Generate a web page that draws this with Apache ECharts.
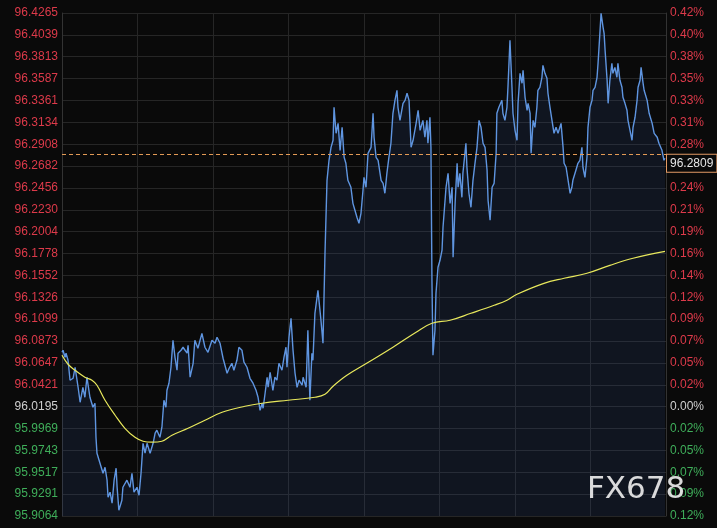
<!DOCTYPE html>
<html>
<head>
<meta charset="utf-8">
<script src="https://cdn.jsdelivr.net/npm/echarts@6/dist/echarts.min.js"></script>
<style>
html,body{margin:0;padding:0;background:#0a0a0a;}
#chart{width:717px;height:528px;}
</style>
</head>
<body>
<div id="chart"></div>
<script>
// ---- data ----
const leftLabels = ['96.4265','96.4039','96.3813','96.3587','96.3361','96.3134','96.2908','96.2682','96.2456','96.2230','96.2004','96.1778','96.1552','96.1326','96.1099','96.0873','96.0647','96.0421','96.0195','95.9969','95.9743','95.9517','95.9291','95.9064'];
const rightLabels = ['0.42%','0.40%','0.38%','0.35%','0.33%','0.31%','0.28%','0.26%','0.24%','0.21%','0.19%','0.16%','0.14%','0.12%','0.09%','0.07%','0.05%','0.02%','0.00%','0.02%','0.05%','0.07%','0.09%','0.12%'];
const yMin = 95.9064;
const yMax = 96.4265;
const baseIndex = 18; // 96.0195 = 0.00%
const lastPrice = 96.2809;
const watermark = 'FX678';

// hours since session start
const times = [
0, 0.04, 0.12, 0.16, 0.24, 0.32, 0.44, 0.52, 0.64, 0.72,
0.83, 0.91, 0.99, 1.11, 1.23, 1.31, 1.35, 1.39, 1.51, 1.63,
1.71, 1.79, 1.83, 1.91, 1.99, 2.07, 2.15, 2.19, 2.26, 2.38,
2.42, 2.58, 2.70, 2.78, 2.86, 2.98, 3.06, 3.14, 3.22, 3.30,
3.38, 3.50, 3.62, 3.70, 3.77, 3.89, 3.97, 4.05, 4.13, 4.17,
4.25, 4.33, 4.41, 4.49, 4.57, 4.61, 4.73, 4.81, 4.89, 4.97,
5.01, 5.09, 5.21, 5.28, 5.40, 5.56, 5.68, 5.80, 5.96, 6.08,
6.16, 6.28, 6.40, 6.56, 6.64, 6.75, 6.83, 6.95, 7.03, 7.15,
7.23, 7.35, 7.47, 7.59, 7.71, 7.79, 7.87, 7.95, 7.99, 8.07,
8.15, 8.19, 8.27, 8.38, 8.46, 8.54, 8.62, 8.74, 8.82, 8.90,
8.94, 9.02, 9.10, 9.18, 9.26, 9.34, 9.42, 9.54, 9.58, 9.70,
9.77, 9.85, 9.93, 9.97, 10.05, 10.17, 10.29, 10.37, 10.45, 10.53,
10.61, 10.69, 10.77, 10.81, 10.89, 10.97, 11.05, 11.13, 11.21, 11.28,
11.36, 11.48, 11.56, 11.64, 11.72, 11.80, 11.88, 11.96, 12.00, 12.08,
12.16, 12.28, 12.36, 12.40, 12.48, 12.56, 12.68, 12.76, 12.83, 12.91,
12.99, 13.07, 13.15, 13.23, 13.31, 13.35, 13.43, 13.55, 13.63, 13.71,
13.79, 13.87, 13.95, 14.07, 14.15, 14.23, 14.34, 14.42, 14.50, 14.54,
14.62, 14.66, 14.70, 14.74, 14.82, 14.86, 14.94, 15.02, 15.10, 15.14,
15.26, 15.34, 15.42, 15.50, 15.54, 15.62, 15.70, 15.74, 15.81, 15.89,
15.93, 16.05, 16.09, 16.17, 16.25, 16.33, 16.41, 16.49, 16.57, 16.65,
16.73, 16.81, 16.89, 16.93, 17.01, 17.09, 17.17, 17.25, 17.28, 17.36,
17.48, 17.52, 17.60, 17.68, 17.72, 17.80, 17.88, 17.92, 18.00, 18.08,
18.12, 18.20, 18.28, 18.32, 18.40, 18.48, 18.52, 18.60, 18.64, 18.72,
18.79, 18.87, 18.91, 18.99, 19.07, 19.11, 19.19, 19.27, 19.31, 19.39,
19.47, 19.55, 19.63, 19.71, 19.83, 19.91, 19.95, 20.03, 20.11, 20.19,
20.26, 20.30, 20.42, 20.50, 20.58, 20.66, 20.70, 20.78, 20.86, 20.90,
20.98, 21.06, 21.10, 21.18, 21.26, 21.30, 21.38, 21.42, 21.50, 21.54,
21.58, 21.66, 21.70, 21.77, 21.85, 21.89, 21.97, 22.05, 22.09, 22.17,
22.25, 22.29, 22.37, 22.45, 22.49, 22.57, 22.65, 22.69, 22.77, 22.85,
22.89, 22.97, 23.01, 23.09, 23.13, 23.25, 23.33, 23.45, 23.53, 23.65,
23.72, 23.84, 23.92, 23.96
];
const prices = [
96.0757, 96.0778, 96.0705, 96.0747, 96.0674, 96.0468, 96.0488, 96.0602, 96.0395, 96.0240,
96.0395, 96.0292, 96.0499, 96.0292, 96.0188, 96.0230, 95.9878, 95.9713, 95.9610, 95.9506,
95.9568, 95.9434, 95.9258, 95.9310, 95.9196, 95.9434, 95.9558, 95.9361, 95.9124, 95.9227,
95.9361, 95.9434, 95.9361, 95.9506, 95.9310, 95.9361, 95.9279, 95.9506, 95.9816, 95.9713,
95.9816, 95.9713, 95.9816, 95.9920, 95.9951, 95.9878, 95.9982, 96.0261, 96.0188, 96.0364,
96.0437, 96.0602, 96.0881, 96.0705, 96.0571, 96.0747, 96.0778, 96.0809, 96.0778, 96.0747,
96.0829, 96.0499, 96.0643, 96.0881, 96.0798, 96.0953, 96.0809, 96.0757, 96.0881, 96.0850,
96.0912, 96.0850, 96.0695, 96.0540, 96.0592, 96.0643, 96.0571, 96.0674, 96.0809, 96.0778,
96.0654, 96.0602, 96.0488, 96.0437, 96.0364, 96.0292, 96.0157, 96.0230, 96.0178, 96.0333,
96.0499, 96.0395, 96.0550, 96.0364, 96.0499, 96.0468, 96.0643, 96.0571, 96.0705, 96.0809,
96.0602, 96.0912, 96.1109, 96.0778, 96.0540, 96.0395, 96.0468, 96.0416, 96.0499, 96.0395,
96.0985, 96.0261, 96.0747, 96.0674, 96.1160, 96.1398, 96.1088, 96.0850, 96.1781, 96.2535,
96.2742, 96.2876, 96.2949, 96.3290, 96.3021, 96.3124, 96.2845, 96.3083, 96.2773, 96.2711,
96.2535, 96.2463, 96.2297, 96.2225, 96.2153, 96.2091, 96.2194, 96.2432, 96.2566, 96.2463,
96.2814, 96.2876, 96.3228, 96.2980, 96.2773, 96.2742, 96.2535, 96.2504, 96.2401, 96.2608,
96.2773, 96.2918, 96.3228, 96.3362, 96.3466, 96.3290, 96.3155, 96.3331, 96.3362, 96.3435,
96.3362, 96.2876, 96.2949, 96.3124, 96.3259, 96.3052, 96.3155, 96.2980, 96.3155, 96.2918,
96.3187, 96.2876, 96.1501, 96.0726, 96.0985, 96.1367, 96.1636, 96.1708, 96.1812, 96.2049,
96.2463, 96.2608, 96.2297, 96.2463, 96.1739, 96.2297, 96.2711, 96.2463, 96.2608, 96.2359,
96.2608, 96.2918, 96.2670, 96.2401, 96.2256, 96.2535, 96.2711, 96.2876, 96.3155, 96.3083,
96.2918, 96.2876, 96.2639, 96.2328, 96.2122, 96.2463, 96.2504, 96.2814, 96.3228, 96.3290,
96.3362, 96.3228, 96.3155, 96.3290, 96.3497, 96.3983, 96.3497, 96.3228, 96.3052, 96.2949,
96.3331, 96.3641, 96.3538, 96.3672, 96.3393, 96.3259, 96.3331, 96.3228, 96.2814, 96.3155,
96.3083, 96.3290, 96.3466, 96.3497, 96.3600, 96.3724, 96.3641, 96.3590, 96.3435, 96.3290,
96.3155, 96.3021, 96.3083, 96.3021, 96.3124, 96.2876, 96.2711, 96.2670, 96.2535, 96.2401,
96.2463, 96.2535, 96.2639, 96.2711, 96.2742, 96.2876, 96.2670, 96.2566, 96.2773, 96.3083,
96.3290, 96.3362, 96.3466, 96.3497, 96.3600, 96.3745, 96.4086, 96.4262, 96.4117, 96.4055,
96.3879, 96.3569, 96.3331, 96.3569, 96.3745, 96.3641, 96.3703, 96.3600, 96.3745, 96.3569,
96.3497, 96.3393, 96.3331, 96.3259, 96.3155, 96.3052, 96.2949, 96.3083, 96.3187, 96.3362,
96.3497, 96.3569, 96.3703, 96.3538, 96.3466, 96.3362, 96.3228, 96.3124, 96.3021, 96.2980,
96.2918, 96.2845, 96.2742, 96.2763
];
const maTimes = [0, 0.24, 0.52, 0.91, 1.19, 1.39, 1.71, 2.11, 2.50, 2.90, 3.22, 3.58, 3.97, 4.37, 5.01, 5.68, 6.36, 7.27, 7.95, 8.98, 10.05, 10.45, 10.77, 11.32, 12.24, 13.15, 14.07, 14.70, 15.42, 16.25, 17.17, 17.68, 18.08, 19.15, 19.95, 20.86, 21.77, 22.69, 23.96];
const maValues = [96.0726, 96.0633, 96.0571, 96.0499, 96.0468, 96.0416, 96.0261, 96.0106, 95.9971, 95.9878, 95.9837, 95.9827, 95.9837, 95.9899, 95.9971, 96.0054, 96.0137, 96.0199, 96.0230, 96.0261, 96.0292, 96.0323, 96.0406, 96.0519, 96.0664, 96.0809, 96.0964, 96.1057, 96.1088, 96.1160, 96.1243, 96.1295, 96.1357, 96.1470, 96.1522, 96.1574, 96.1656, 96.1729, 96.1801];

// ---- build ----
const yStep = (yMax - yMin) / (leftLabels.length - 1);
const priceData = times.map((t, i) => [t, prices[i]]);
const maData = maTimes.map((t, i) => [t, maValues[i]]);
const FONT = 'Liberation Sans, Arial, sans-serif';
const RED = '#dd3a4a', GREEN = '#3fae5a', NEUTRAL = '#cfcfcf';
function tickIndex(v) { return (leftLabels.length - 1) - Math.round((v - yMin) / yStep); }
function styleKey(k) { return k < baseIndex ? 'r' : (k === baseIndex ? 'n' : 'g'); }
const richStyles = {
  r: { color: RED, fontSize: 12, fontFamily: FONT },
  n: { color: NEUTRAL, fontSize: 12, fontFamily: FONT },
  g: { color: GREEN, fontSize: 12, fontFamily: FONT }
};
const yCommon = {
  type: 'value', min: yMin, max: yMax, interval: yStep, scale: true,
  axisTick: { show: false },
  axisLine: { show: true, lineStyle: { color: '#333333', width: 1 } }
};

const chart = echarts.init(document.getElementById('chart'), null, { renderer: 'canvas' });
chart.setOption({
  animation: false,
  backgroundColor: '#0a0a0a',
  grid: { left: 62, right: 51, top: 13, bottom: 12, containLabel: false },
  xAxis: {
    type: 'value', min: 0, max: 24, interval: 3,
    axisLine: { show: false }, axisTick: { show: false }, axisLabel: { show: false },
    splitLine: { show: true, lineStyle: { color: '#262626', width: 1 } }
  },
  yAxis: [
    Object.assign({}, yCommon, {
      position: 'left',
      splitLine: { show: true, lineStyle: { color: '#262626', width: 1 } },
      axisLabel: {
        margin: 4, showMinLabel: true, showMaxLabel: true, hideOverlap: false,
        formatter: function (v) { const k = tickIndex(v); return '{' + styleKey(k) + '|' + leftLabels[k] + '}'; },
        rich: richStyles
      }
    }),
    Object.assign({}, yCommon, {
      position: 'right',
      splitLine: { show: false },
      axisLabel: {
        margin: 4, showMinLabel: true, showMaxLabel: true, hideOverlap: false,
        formatter: function (v) { const k = tickIndex(v); return '{' + styleKey(k) + '|' + rightLabels[k] + '}'; },
        rich: richStyles
      }
    })
  ],
  graphic: [{
    type: 'text', left: 587, top: 474, z: 100,
    style: { text: watermark, fill: 'rgba(235,235,235,0.92)', font: '31px "DejaVu Sans", sans-serif' }
  }],
  series: [
    {
      type: 'line', name: 'price', data: priceData, yAxisIndex: 0,
      showSymbol: false, smooth: false, z: 3,
      lineStyle: { color: '#5f95e0', width: 1.4 },
      areaStyle: { color: 'rgba(45,80,140,0.24)', origin: 'start' },
      markLine: {
        silent: true, symbol: 'none', animation: false,
        data: [{ yAxis: lastPrice }],
        lineStyle: { color: '#e39a55', type: [4, 3], width: 1 },
        label: {
          show: true, position: 'end', distance: 1,
          formatter: lastPrice.toFixed(4),
          color: '#e6e6e6', fontSize: 12, fontFamily: FONT,
          backgroundColor: '#0a0a0a', borderColor: '#e39a65', borderWidth: 1,
          padding: [3, 3, 2, 3], verticalAlign: 'top'
        }
      }
    },
    {
      type: 'line', name: 'ma', data: maData, yAxisIndex: 0,
      showSymbol: false, smooth: 0.4, z: 4,
      lineStyle: { color: '#e8e85c', width: 1.2 }
    }
  ]
});
</script>
</body>
</html>
